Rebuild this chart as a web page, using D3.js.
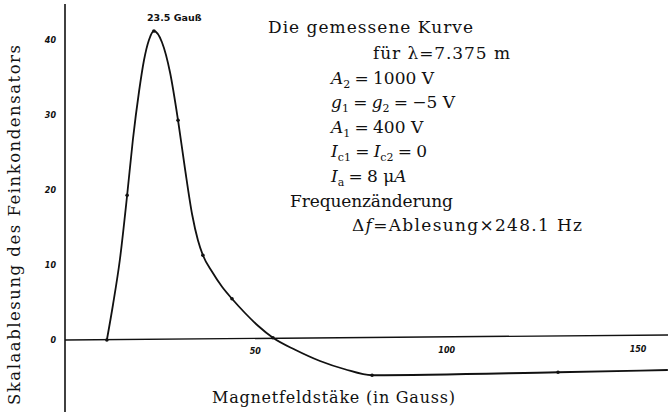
<!DOCTYPE html>
<html>
<head>
<meta charset="utf-8">
<script src="https://cdn.jsdelivr.net/npm/d3@7/dist/d3.min.js"></script>
<style>
  html, body { margin: 0; padding: 0; background: #fff; }
  svg { display: block; }
  .tick-label { font-family: "DejaVu Sans", sans-serif; font-style: italic; font-weight: bold; font-size: 8px; fill: #111; }
  .serif { font-family: "DejaVu Serif", "Liberation Serif", serif; fill: #111; }
</style>
</head>
<body>
<svg id="chart" width="668" height="412"></svg>
<script>
// Measured points: magnetic field (Gauss) vs. scale reading of the fine capacitor
const pointField = [11.2, 16.5, 23.5, 29.8, 36.3, 43.9, 54.6, 80.5, 129.1];
const pointReading = [0, 19.3, 41.2, 29.3, 11.3, 5.5, 0.3, -4.7, -4.3];

// Hand-drawn curve through the measurements, traced along its course
const curveField = [11.2, 12.8, 14.6, 16.5, 18.0, 19.6, 20.9, 22.2, 23.5,
  25.6, 27.7, 29.8, 31.6, 33.5, 35.0, 36.3, 38.7, 41.3, 43.9, 47.3, 50.7, 54.6,
  60.4, 66.9, 73.4, 80.5, 129.1, 157.8];
const curveReading = [0, 4.7, 10.7, 19.3, 26.7, 33.1, 37.3, 40.0, 41.2,
  39.7, 35.7, 29.3, 22.9, 16.7, 13.3, 11.3, 9.1, 7.1, 5.5, 3.6, 1.9, 0.3,
  -1.3, -2.8, -3.9, -4.7, -4.3, -4.0];

const xTicks = [50, 100, 150];
const yTicks = [0, 10, 20, 30, 40];

const peakLabel = "23.5 Gauß";
const yTitle = "Skalaablesung des Feinkondensators";
const xTitle = "Magnetfeldstäke (in Gauss)";

const W = 668, H = 412;
const svg = d3.select("#chart");

const x = d3.scaleLinear().domain([0, 150]).range([64, 638]);
const y = d3.scaleLinear().domain([0, 40]).range([340, 40]);

const ink = "#111";

// Axes: vertical reading axis and the zero line
svg.append("line")
  .attr("x1", x(0) + 1).attr("x2", x(0) + 1)
  .attr("y1", 4).attr("y2", H)
  .attr("stroke", ink).attr("stroke-width", 1.6);

svg.append("line")
  .attr("x1", x(0) + 1).attr("x2", W)
  .attr("y1", y(0)).attr("y2", y(0) - 5)
  .attr("stroke", ink).attr("stroke-width", 1.4);

// Tick labels
svg.selectAll(".ylab").data(yTicks).enter().append("text")
  .attr("class", "tick-label")
  .attr("x", x(0) - 8)
  .attr("y", d => y(d) + 3)
  .attr("text-anchor", "end")
  .text(d => d);

svg.selectAll(".xlab").data(xTicks).enter().append("text")
  .attr("class", "tick-label")
  .attr("x", d => x(d))
  .attr("y", d => y(0) + 15 - d * 0.02)
  .attr("text-anchor", "middle")
  .text(d => d);

// Resonance curve
const line = d3.line()
  .x(d => x(d[0])).y(d => y(d[1]))
  .curve(d3.curveMonotoneX);

svg.append("path")
  .attr("d", line(curveField.map((g, i) => [g, curveReading[i]])))
  .attr("fill", "none")
  .attr("stroke", ink)
  .attr("stroke-width", 1.8);

svg.selectAll(".pt").data(pointField).enter().append("circle")
  .attr("cx", d => x(d))
  .attr("cy", (d, i) => y(pointReading[i]))
  .attr("r", 1.8)
  .attr("fill", ink);

// Peak annotation
svg.append("text")
  .attr("x", x(pointField[2]) - 7)
  .attr("y", 21)
  .attr("font-family", "DejaVu Sans, sans-serif")
  .attr("font-size", 9.5)
  .attr("font-weight", "bold")
  .attr("fill", ink)
  .text(peakLabel);

// Axis titles
svg.append("text")
  .attr("class", "serif")
  .attr("transform", "translate(20,225) rotate(-90)")
  .attr("text-anchor", "middle")
  .attr("font-size", 16.5)
  .attr("textLength", 360)
  .attr("lengthAdjust", "spacing")
  .text(yTitle);

svg.append("text")
  .attr("class", "serif")
  .attr("x", 212)
  .attr("y", 403)
  .attr("font-size", 16)
  .attr("textLength", 243)
  .attr("lengthAdjust", "spacing")
  .text(xTitle);

// Measurement conditions; each part: [text, style] where style is i (italic) or sub (subscript)
const sp = "\u2005";
const notes = [
  { x: 268, y: 33, w: 205, parts: [["Die gemessene Kurve"]] },
  { x: 373, y: 59, w: 137, parts: [["für λ=7.375 m"]] },
  { x: 331, y: 84, parts: [["A", "i"], ["2", "sub"], [sp + "=" + sp + "1000 V"]] },
  { x: 331, y: 108, parts: [["g", "i"], ["1", "sub"], [sp + "=" + sp], ["g", "i"], ["2", "sub"], [sp + "=" + sp + "−5 V"]] },
  { x: 331, y: 133, parts: [["A", "i"], ["1", "sub"], [sp + "=" + sp + "400 V"]] },
  { x: 331, y: 157, parts: [["I", "i"], ["c1", "sub"], [sp + "=" + sp], ["I", "i"], ["c2", "sub"], [sp + "=" + sp + "0"]] },
  { x: 331, y: 182, parts: [["I", "i"], ["a", "sub"], [sp + "=" + sp + "8 μ"], ["A", "i"]] },
  { x: 290, y: 207, w: 163, parts: [["Frequenzänderung"]] },
  { x: 352, y: 231, w: 230, parts: [["Δ"], ["f", "i"], ["=Ablesung×248.1 Hz"]] }
];

notes.forEach(n => {
  const t = svg.append("text")
    .attr("class", "serif")
    .attr("x", n.x).attr("y", n.y)
    .attr("font-size", 17);
  if (n.w) t.attr("textLength", n.w).attr("lengthAdjust", "spacing");
  let lowered = false;
  n.parts.forEach(([s, kind]) => {
    const ts = t.append("tspan").text(s);
    if (kind === "i") ts.attr("font-style", "italic");
    if (kind === "sub") {
      ts.attr("font-size", 11);
      if (!lowered) { ts.attr("dy", 4); lowered = true; }
    } else if (lowered) {
      ts.attr("dy", -4); lowered = false;
    }
  });
});
</script>
</body>
</html>
